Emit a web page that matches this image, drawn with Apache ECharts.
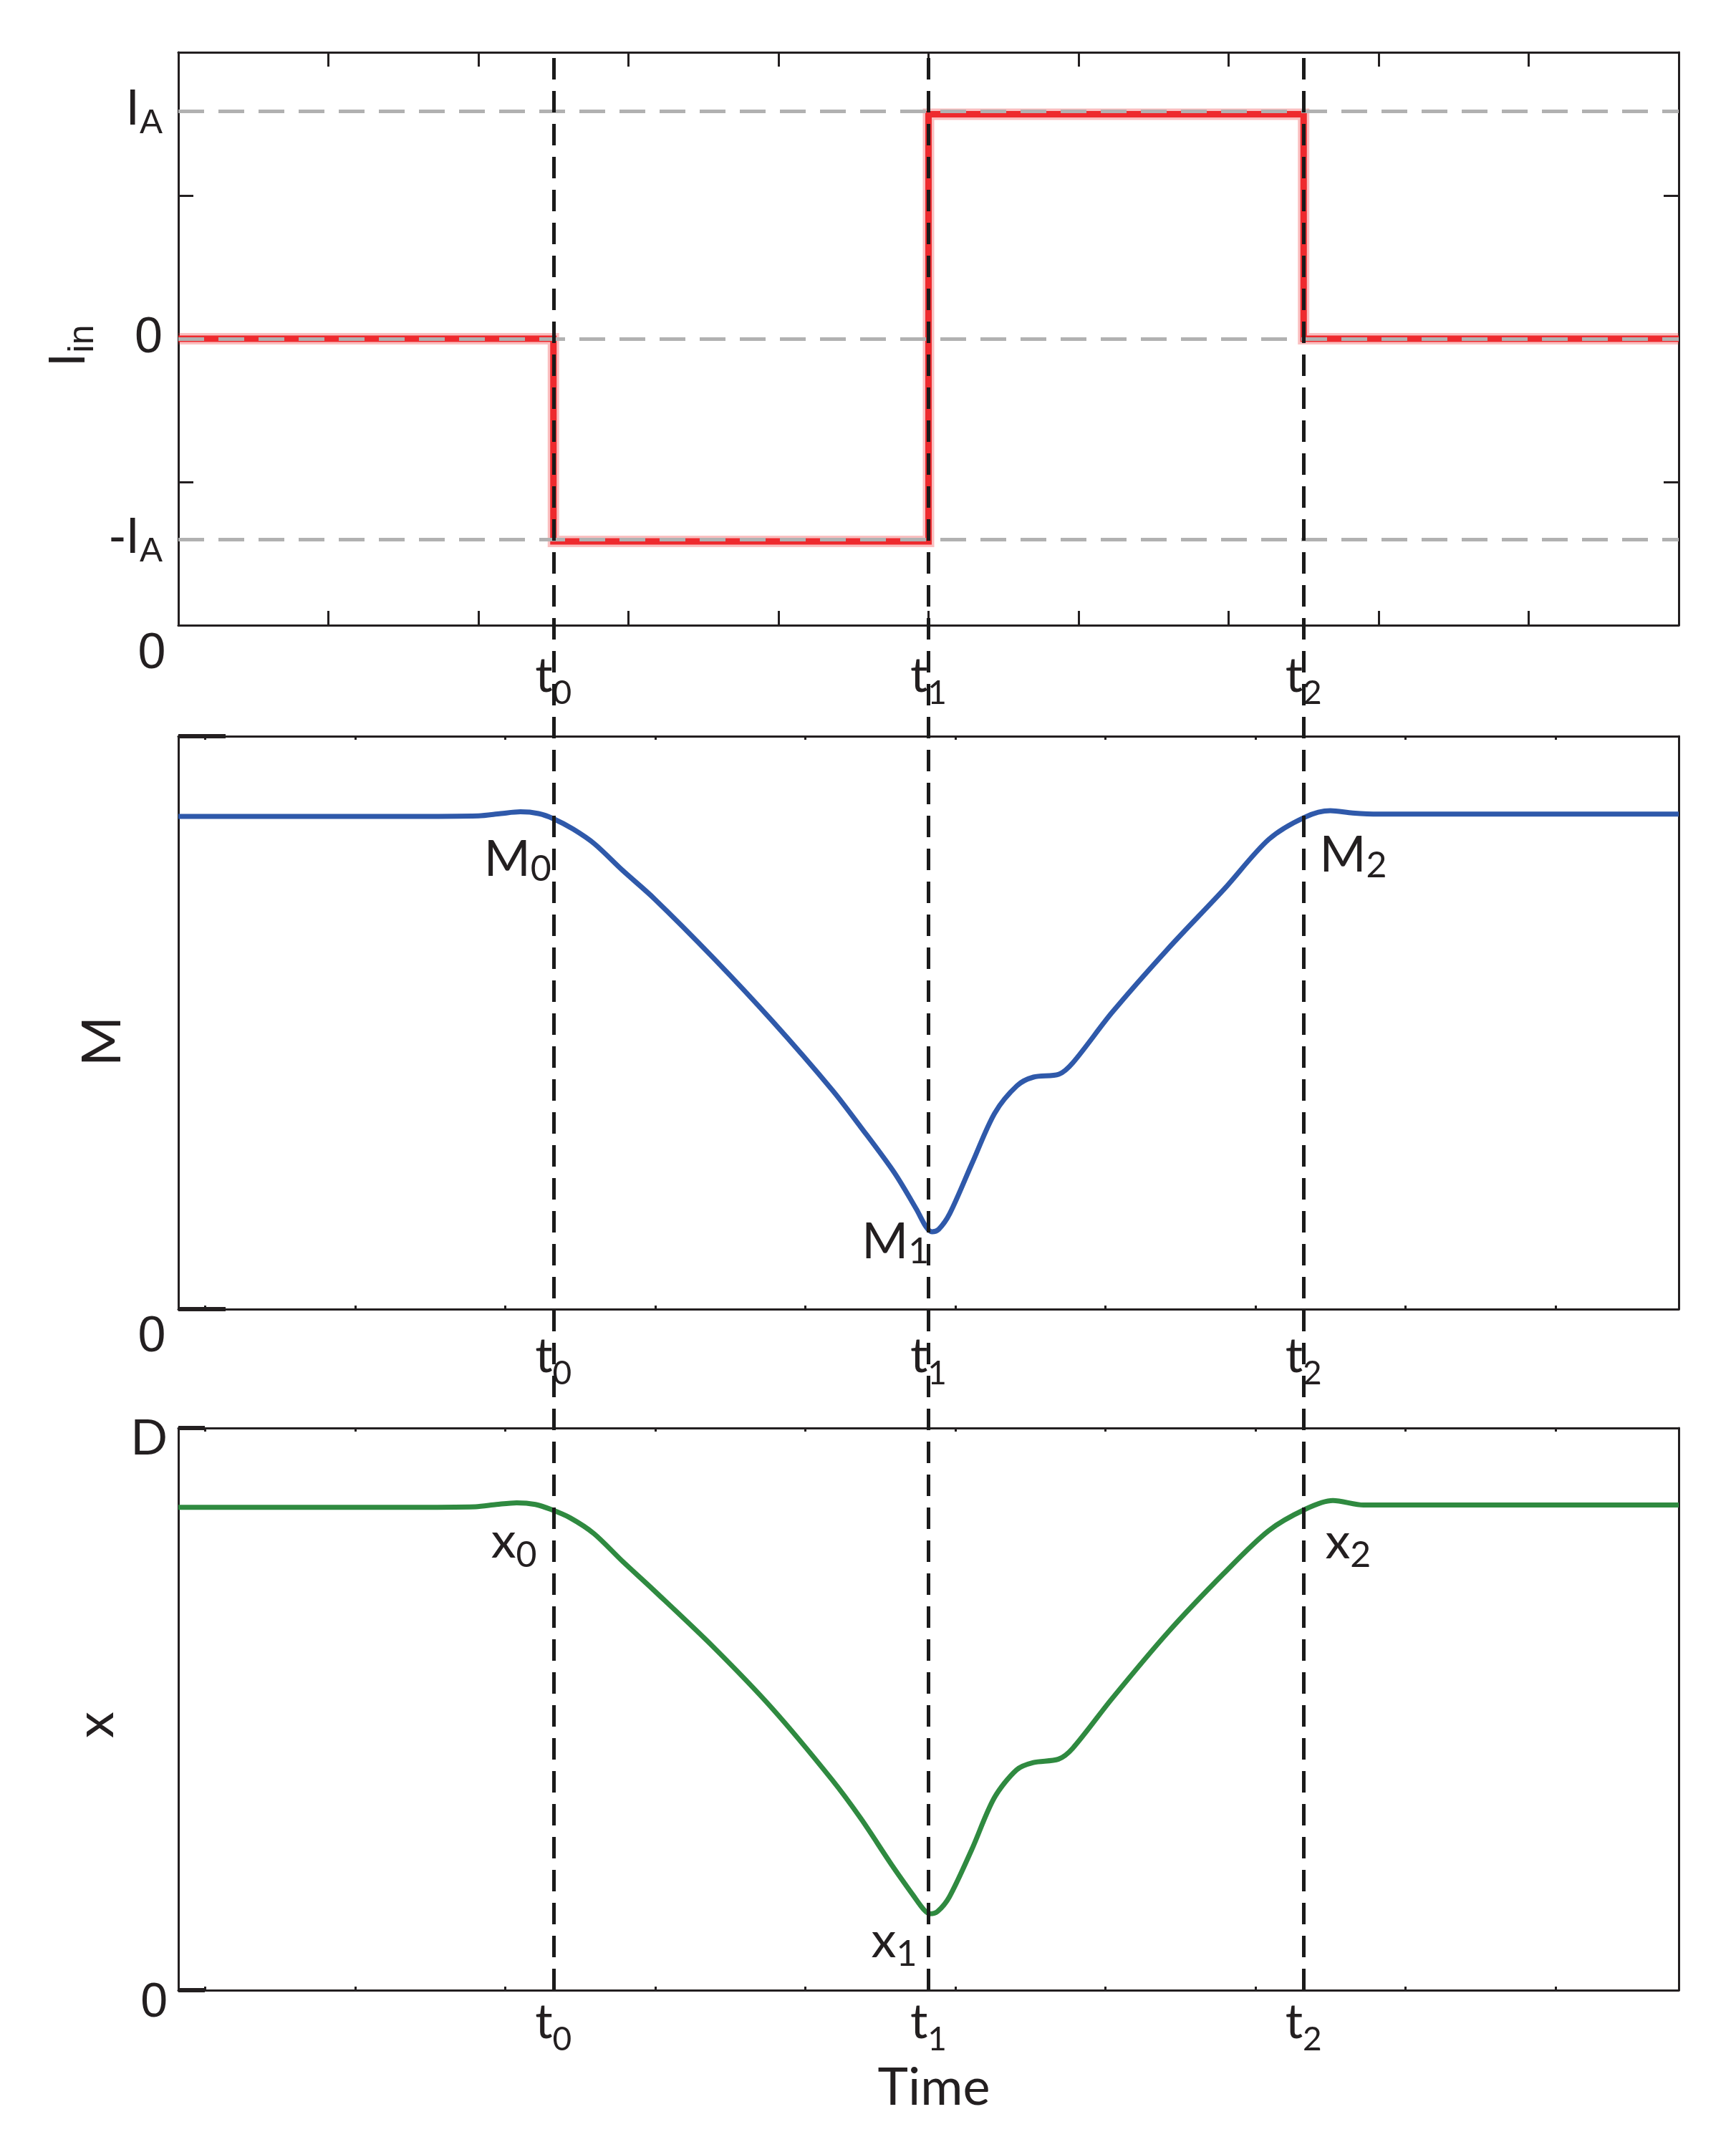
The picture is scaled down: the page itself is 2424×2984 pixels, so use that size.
<!DOCTYPE html>
<html>
<head>
<meta charset="utf-8">
<title>Iin / M / x vs time</title>
<style>
  html, body { margin: 0; padding: 0; background: #fff; }
  #chart { width: 2424px; height: 2984px; }
</style>
</head>
<body>
<div id="chart"></div>
<script src="https://cdn.jsdelivr.net/npm/echarts@6/dist/echarts.min.js"></script>
<script>
// time runs 0..10, the three switching instants t0 / t1 / t2
var switchTimes = [2.5, 5, 7.5];
var switchNames = ['0', '1', '2'];

// input current, a step waveform
var iTime = [0, 2.5, 2.5, 5, 5, 7.5, 7.5, 10];
var iVal = [0, 0, -1.415, -1.415, 1.568, 1.568, 0, 0];
// reference levels I_A, 0, -I_A
var iLevels = [1.59, 0, -1.40];
var iLevelNames = ['I', '0', '-I'];

// memristance M, fraction of panel height
var mTime = [0, 1.5, 2.0, 2.15, 2.28, 2.4, 2.5, 2.63, 2.774, 2.96, 3.17, 3.566, 3.962, 4.36, 4.545, 4.77, 4.918, 4.985, 5.023, 5.067,
  5.142, 5.291, 5.441, 5.59, 5.70, 5.869, 5.962, 6.224, 6.596, 6.97, 7.268, 7.511, 7.678, 7.827, 8.0, 10];
var mVal = [0.860, 0.860, 0.861, 0.865, 0.868, 0.865, 0.856, 0.838, 0.812, 0.766, 0.717, 0.613, 0.502, 0.382, 0.319, 0.239, 0.175, 0.143, 0.135, 0.139,
  0.167, 0.255, 0.342, 0.390, 0.405, 0.410, 0.430, 0.518, 0.629, 0.733, 0.820, 0.859, 0.870, 0.866, 0.864, 0.864];

// state variable x, 0 .. D
var xTime = [0, 1.5, 1.98, 2.12, 2.255, 2.38, 2.485, 2.613, 2.771, 2.96, 3.167, 3.564, 3.959, 4.355, 4.55, 4.752, 4.9, 4.97, 5.009, 5.06,
  5.139, 5.288, 5.438, 5.587, 5.699, 5.866, 5.96, 6.221, 6.594, 6.967, 7.265, 7.515, 7.695, 7.9, 8.1, 10];
var xVal = [0.859, 0.859, 0.860, 0.864, 0.867, 0.864, 0.855, 0.840, 0.812, 0.763, 0.712, 0.611, 0.501, 0.375, 0.305, 0.224, 0.168, 0.143, 0.136, 0.140,
  0.166, 0.250, 0.342, 0.392, 0.405, 0.411, 0.430, 0.518, 0.636, 0.741, 0.817, 0.856, 0.871, 0.863, 0.863, 0.863];

// annotated points (time of the point on each curve)
var mMarkTimes = [2.5, 5.023, 7.511];
var xMarkTimes = [2.485, 5.009, 7.515];

var ticksUpper = [1, 2, 3, 4, 5, 6, 7, 8, 9];
var ticksLower = [0.18, 1.18, 2.18, 3.18, 4.18, 5.18, 6.18, 7.18, 8.18, 9.18];

var INK = '#231f20';
var SANS = 'Liberation Sans';
var HUM = 'Lato';

function zip(a, b) {
  return a.map(function (v, i) { return [v, b[i]]; });
}

var myChart = echarts.init(document.getElementById('chart'), null, { renderer: 'canvas' });

var L = 249, W = 2095;
var frameLine = { onZero: false, lineStyle: { color: INK, width: 3 } };

// rich text for the time labels under each panel
function timeRich(padT) {
  return {
    z: { fontFamily: SANS, fontSize: 70, color: INK, verticalAlign: 'top', padding: [0, 74, 0, 0] },
    t: { fontFamily: HUM, fontSize: 68, color: INK, verticalAlign: 'top', padding: [padT, 0, 0, 0] },
    s: { fontFamily: HUM, fontSize: 46, color: INK, verticalAlign: 'top', padding: [padT + 35, 0, 0, 0] }
  };
}
function timeFmt(v) {
  if (v === 0) return '{z|0}';
  return '{t|t}{s|' + switchNames[switchTimes.indexOf(v)] + '}';
}

function bottomAxis(grid, ticks, tickLen, labels, padT, margin) {
  return {
    type: 'value', gridIndex: grid, position: 'bottom', min: 0, max: 10,
    axisLine: frameLine,
    axisTick: { show: true, inside: true, customValues: ticks, length: tickLen, lineStyle: { color: INK, width: 3 } },
    axisLabel: { show: true, customValues: labels, margin: margin, formatter: timeFmt, rich: timeRich(padT) },
    splitLine: { show: false }
  };
}
function topAxis(grid, ticks, tickLen) {
  return {
    type: 'value', gridIndex: grid, position: 'top', min: 0, max: 10,
    axisLine: frameLine,
    axisTick: { show: true, inside: true, customValues: ticks, length: tickLen, lineStyle: { color: INK, width: 3 } },
    axisLabel: { show: false },
    splitLine: { show: false }
  };
}
function rightAxis(grid, min, max, ticks) {
  return {
    type: 'value', gridIndex: grid, position: 'right', min: min, max: max,
    axisLine: frameLine,
    axisTick: { show: !!ticks, inside: true, customValues: ticks || [], length: 21, lineStyle: { color: INK, width: 3 } },
    axisLabel: { show: false },
    splitLine: { show: false }
  };
}

function markLabels(times, vals, marks) {
  return {
    symbol: 'circle', symbolSize: 0, silent: true,
    label: {
      show: true, position: 'inside',
      rich: {
        m: { fontFamily: HUM, fontSize: 70, color: INK, verticalAlign: 'middle' },
        s: { fontFamily: HUM, fontSize: 50, color: INK, verticalAlign: 'middle', padding: [marks.subPad, 0, 0, 0] }
      }
    },
    data: marks.items.map(function (it, k) {
      var t = marks.times[k];
      return {
        coord: [t, vals[times.indexOf(t)]],
        label: { formatter: '{m|' + marks.letter + '}{s|' + switchNames[k] + '}', align: it.align, offset: it.offset }
      };
    })
  };
}

var option = {
  animation: false,
  backgroundColor: '#fff',
  grid: [
    { left: L, top: 73, width: W, height: 800 },
    { left: L, top: 1028, width: W, height: 800 },
    { left: L, top: 1994, width: W, height: 785 },
    { left: L, top: 73, width: W, height: 2706 }
  ],
  xAxis: [
    bottomAxis(0, ticksUpper, 20, [0].concat(switchTimes), 31, 6),
    topAxis(0, ticksUpper, 20),
    bottomAxis(1, ticksLower, 5, [0].concat(switchTimes), 27, 5),
    topAxis(1, ticksLower, 5),
    Object.assign(bottomAxis(2, ticksLower, 5, switchTimes, 0, 11), {
      name: 'Time', nameLocation: 'middle', nameGap: 101,
      nameTextStyle: { fontFamily: HUM, fontSize: 72, color: INK, padding: [0, 0, 0, 15] }
    }),
    topAxis(2, ticksLower, 5),
    { type: 'value', gridIndex: 3, min: 0, max: 10, show: false }
  ],
  yAxis: [
    {
      type: 'value', gridIndex: 0, position: 'left', min: -2, max: 2,
      axisLine: frameLine,
      axisTick: { show: true, inside: true, customValues: [-1, 1], length: 21, lineStyle: { color: INK, width: 3 } },
      axisLabel: {
        show: true, customValues: iLevels, margin: 22,
        formatter: function (v) {
          var k = iLevels.indexOf(v);
          return k === 1 ? '{m|0}' : '{m|' + iLevelNames[k] + '}{s|A}';
        },
        rich: {
          m: { fontFamily: SANS, fontSize: 70, color: INK, verticalAlign: 'middle' },
          s: { fontFamily: SANS, fontSize: 48, color: INK, verticalAlign: 'middle', padding: [36, 0, 0, 0] }
        }
      },
      splitLine: { show: false },
      name: '{m|I}{s|in}', nameLocation: 'middle', nameGap: 93,
      nameTextStyle: {
        padding: [0, 20, 0, 0],
        rich: {
          m: { fontFamily: SANS, fontSize: 72, color: INK, verticalAlign: 'middle' },
          s: { fontFamily: SANS, fontSize: 50, color: INK, verticalAlign: 'middle', padding: [36, 0, 0, 0] }
        }
      }
    },
    rightAxis(0, -2, 2, [-1, 1]),
    {
      type: 'value', gridIndex: 1, position: 'left', min: 0, max: 1,
      axisLine: frameLine,
      axisTick: { show: true, inside: true, customValues: [0, 1], length: 66, lineStyle: { color: INK, width: 6 } },
      axisLabel: { show: false },
      splitLine: { show: false },
      name: 'M', nameLocation: 'middle', nameGap: 68,
      nameTextStyle: { fontFamily: HUM, fontSize: 76, color: INK, padding: [0, 52, 0, 0] }
    },
    rightAxis(1, 0, 1),
    {
      type: 'value', gridIndex: 2, position: 'left', min: 0, max: 1,
      axisLine: frameLine,
      axisTick: { show: true, inside: true, customValues: [0, 1], length: 37, lineStyle: { color: INK, width: 6 } },
      axisLabel: {
        show: true, customValues: [0, 1], margin: 15,
        formatter: function (v) { return v === 1 ? '{d|D}' : '{z|0}'; },
        rich: {
          d: { fontFamily: HUM, fontSize: 68, color: INK, verticalAlign: 'middle', padding: [30, 0, 0, 0] },
          z: { fontFamily: SANS, fontSize: 68, color: INK, verticalAlign: 'middle', padding: [36, 0, 0, 0] }
        }
      },
      splitLine: { show: false },
      name: 'x', nameLocation: 'middle', nameGap: 68,
      nameTextStyle: { fontFamily: HUM, fontSize: 74, color: INK, padding: [0, 44, 0, 0] }
    },
    rightAxis(2, 0, 1),
    { type: 'value', gridIndex: 3, min: 0, max: 1, show: false }
  ],
  series: [
    {
      // soft halo under the current trace
      name: 'Iin halo', type: 'line', xAxisIndex: 0, yAxisIndex: 0,
      data: zip(iTime, iVal), symbol: 'none', z: 2, silent: true,
      lineStyle: { color: 'rgba(238, 42, 46, 0.3)', width: 16, join: 'miter' }
    },
    {
      name: 'Iin', type: 'line', xAxisIndex: 0, yAxisIndex: 0,
      data: zip(iTime, iVal), symbol: 'none', z: 3,
      lineStyle: { color: '#ee2a2e', width: 9, join: 'miter', cap: 'butt' },
      markLine: {
        silent: true, symbol: ['none', 'none'], label: { show: false },
        lineStyle: { color: '#b1b1b1', width: 5, type: [36, 20] },
        data: iLevels.map(function (v) { return { yAxis: v }; })
      }
    },
    {
      name: 'M', type: 'line', xAxisIndex: 2, yAxisIndex: 2,
      data: zip(mTime, mVal), symbol: 'none', smooth: 0.3, z: 3,
      lineStyle: { color: '#2f59aa', width: 7 },
      markPoint: markLabels(mTime, mVal, {
        letter: 'M', subPad: 28, times: mMarkTimes,
        items: [
          { align: 'right', offset: [-3, 57] },
          { align: 'right', offset: [-4, 14] },
          { align: 'left', offset: [20, 54] }
        ]
      })
    },
    {
      name: 'x', type: 'line', xAxisIndex: 4, yAxisIndex: 4,
      data: zip(xTime, xVal), symbol: 'none', smooth: 0.3, z: 3,
      lineStyle: { color: '#2f8a40', width: 7 },
      markPoint: markLabels(xTime, xVal, {
        letter: 'x', subPad: 38, times: xMarkTimes,
        items: [
          { align: 'right', offset: [-20, 45] },
          { align: 'right', offset: [-18, 38] },
          { align: 'left', offset: [27, 46] }
        ]
      })
    },
    {
      name: 'switch', type: 'line', xAxisIndex: 6, yAxisIndex: 6,
      data: [], z: 10,
      markLine: {
        silent: true, symbol: ['none', 'none'], label: { show: false }, z: 10,
        lineStyle: { color: '#1a1a1a', width: 5, type: [30, 16] },
        data: switchTimes.map(function (t) { return { xAxis: t }; })
      }
    }
  ]
};

myChart.setOption(option);
window.addEventListener('resize', function () {
  myChart.resize();
});
</script>
</body>
</html>
